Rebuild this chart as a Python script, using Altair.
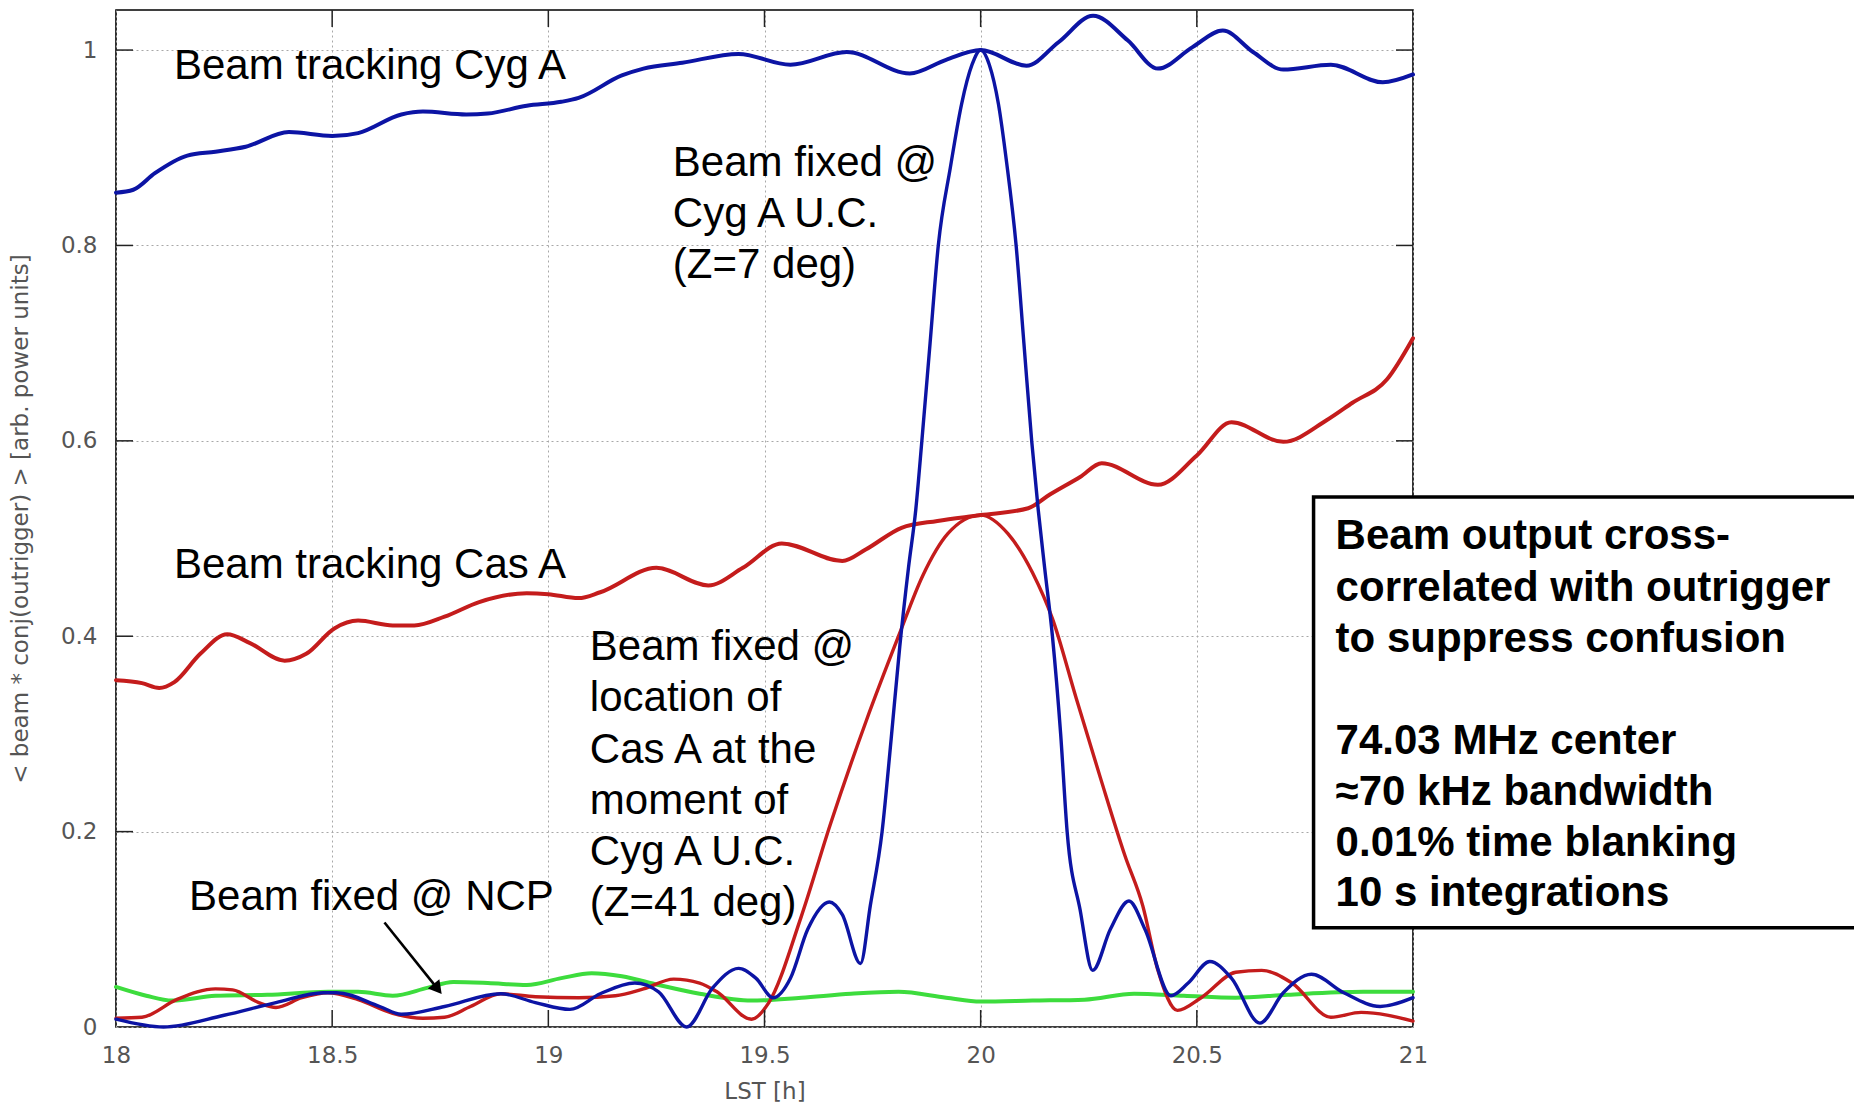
import altair as alt
import pandas as pd

# ---- measured cross-power, LST [h] vs <beam * conj(outrigger)> ----
cyg_track_lst = [18.0, 18.04, 18.09, 18.165, 18.23, 18.30, 18.40, 18.50, 18.56, 18.66, 18.71,
                 18.81, 18.86, 18.95, 19.03, 19.07, 19.17, 19.22, 19.31, 19.44, 19.56, 19.69,
                 19.836, 19.92, 20.0, 20.106, 20.18, 20.26, 20.34, 20.41, 20.49, 20.56, 20.63,
                 20.70, 20.81, 20.93, 21.0]
cyg_track_pow = [0.854, 0.857, 0.874, 0.892, 0.896, 0.901, 0.916, 0.912, 0.915, 0.934, 0.937,
                 0.934, 0.935, 0.943, 0.947, 0.951, 0.974, 0.981, 0.987, 0.996, 0.985, 0.998,
                 0.976, 0.990, 1.000, 0.984, 1.008, 1.035, 1.010, 0.981, 1.003, 1.020, 0.998,
                 0.980, 0.985, 0.967, 0.975]

cyg_fixed_lst = [18.0, 18.11, 18.25, 18.37, 18.48, 18.51, 18.61, 18.66, 18.76, 18.89, 18.97,
                 19.05, 19.12, 19.20, 19.255, 19.32, 19.38, 19.44, 19.48, 19.52, 19.56, 19.60,
                 19.65, 19.68, 19.722, 19.745, 19.772, 19.793, 19.813, 19.833, 19.85, 19.864,
                 19.883, 19.902, 19.93, 19.956, 19.98, 20.0, 20.02, 20.041, 20.06, 20.082, 20.10,
                 20.118, 20.133, 20.148, 20.166, 20.185, 20.20, 20.23, 20.259, 20.30, 20.343,
                 20.38, 20.44, 20.48, 20.53, 20.58, 20.646, 20.70, 20.765, 20.84, 20.924, 21.0]
cyg_fixed_pow = [0.008, 0.000, 0.012, 0.025, 0.035, 0.035, 0.021, 0.013, 0.021, 0.034, 0.025,
                 0.018, 0.034, 0.045, 0.036, 0.000, 0.040, 0.060, 0.050, 0.030, 0.050, 0.100,
                 0.128, 0.115, 0.065, 0.125, 0.200, 0.295, 0.390, 0.470, 0.530, 0.600,
                 0.700, 0.800, 0.880, 0.945, 0.985, 1.000, 0.985, 0.945, 0.885, 0.800, 0.700,
                 0.600, 0.530, 0.470, 0.400, 0.300, 0.200, 0.120, 0.058, 0.100, 0.129,
                 0.100, 0.032, 0.045, 0.067, 0.050, 0.004, 0.035, 0.054, 0.035, 0.021, 0.030]

cas_track_lst = [18.0, 18.06, 18.10, 18.135, 18.195, 18.257, 18.31, 18.39, 18.44, 18.505, 18.56,
                 18.64, 18.69, 18.76, 18.84, 18.95, 19.0, 19.07, 19.12, 19.25, 19.37, 19.45,
                 19.54, 19.68, 19.735, 19.817, 19.90, 20.0, 20.11, 20.16, 20.23, 20.28, 20.41,
                 20.50, 20.58, 20.70, 20.80, 20.86, 20.94, 21.0]
cas_track_pow = [0.355, 0.352, 0.347, 0.353, 0.382, 0.402, 0.393, 0.375, 0.382, 0.408, 0.416,
                 0.411, 0.411, 0.420, 0.435, 0.444, 0.443, 0.439, 0.445, 0.470, 0.452, 0.470,
                 0.495, 0.477, 0.489, 0.511, 0.518, 0.524, 0.531, 0.545, 0.563, 0.577, 0.555,
                 0.585, 0.619, 0.599, 0.621, 0.639, 0.663, 0.705]

cas_fixed_lst = [18.0, 18.06, 18.14, 18.23, 18.27, 18.33, 18.37, 18.43, 18.49, 18.56, 18.64,
                 18.71, 18.76, 18.82, 18.89, 18.97, 19.07, 19.155, 19.22, 19.29, 19.35, 19.39,
                 19.47, 19.51, 19.585, 19.652, 19.735, 19.81, 19.866, 19.924, 20.0, 20.063,
                 20.12, 20.166, 20.22, 20.277, 20.334, 20.375, 20.41, 20.455, 20.51, 20.59,
                 20.65, 20.72, 20.81, 20.88, 21.0]
cas_fixed_pow = [0.009, 0.010, 0.028, 0.039, 0.038, 0.025, 0.020, 0.030, 0.035, 0.028, 0.014,
                 0.009, 0.010, 0.021, 0.034, 0.031, 0.030, 0.032, 0.039, 0.049, 0.045, 0.036,
                 0.008, 0.025, 0.113, 0.207, 0.313, 0.400, 0.462, 0.505, 0.524, 0.505,
                 0.465, 0.418, 0.338, 0.255, 0.175, 0.124, 0.058, 0.017, 0.030, 0.056,
                 0.058, 0.045, 0.010, 0.015, 0.006]

ncp_lst = [18.0, 18.07, 18.13, 18.23, 18.35, 18.49, 18.56, 18.64, 18.72, 18.78, 18.86, 18.95,
           19.03, 19.10, 19.17, 19.255, 19.35, 19.47, 19.585, 19.70, 19.81, 19.92, 20.0, 20.12,
           20.24, 20.355, 20.47, 20.59, 20.71, 20.885, 21.0]
ncp_pow = [0.041, 0.032, 0.027, 0.032, 0.033, 0.036, 0.036, 0.032, 0.040, 0.046, 0.045, 0.043,
           0.050, 0.055, 0.052, 0.043, 0.034, 0.027, 0.030, 0.034, 0.036, 0.030, 0.026, 0.027,
           0.028, 0.034, 0.032, 0.030, 0.033, 0.036, 0.036]

# ---- annotations ----
label_lines = ["Beam tracking Cyg A",
               "Beam fixed @", "Cyg A U.C.", "(Z=7 deg)",
               "Beam tracking Cas A",
               "Beam fixed @", "location of", "Cas A at the", "moment of", "Cyg A U.C.", "(Z=41 deg)",
               "Beam fixed @ NCP"]
label_lst = [18.134, 19.288, 19.288, 19.288, 18.134,
             19.096, 19.096, 19.096, 19.096, 19.096, 19.096, 18.169]
label_pow = [0.984, 0.884, 0.832, 0.780, 0.473,
             0.3886, 0.3366, 0.2834, 0.2313, 0.1792, 0.1271, 0.1331]

box_lines = ["Beam output cross-", "correlated with outrigger", "to suppress confusion",
             "74.03 MHz center", "\u224870 kHz bandwidth", "0.01% time blanking",
             "10 s integrations"]
box_line_pow = [0.5025, 0.4491, 0.3971, 0.2930, 0.2409, 0.1888, 0.1368]
box_text_lst = 20.821
box_lst = [20.770, 22.6]
box_pow = [0.1017, 0.5424]

arrow_lst = [18.621, 18.744]
arrow_pow = [0.107, 0.039]

x_ticks = [18, 18.5, 19, 19.5, 20, 20.5, 21]
y_ticks = [0, 0.2, 0.4, 0.6, 0.8, 1.0]
x_inner_ticks = [18.5, 19, 19.5, 20, 20.5]
y_inner_ticks = [0.2, 0.4, 0.6, 0.8, 1.0]

BLUE = "#0c14a4"
RED = "#c41c1c"
GREEN = "#3ddc3d"

W, H = 1297, 1017
TICK = 17

x_scale = alt.Scale(domain=[18, 21], nice=False, zero=False)
y_scale = alt.Scale(domain=[0, 1.041], nice=False)

AX_COMMON = dict(grid=True, gridDash=[2, 3], gridColor="#a8a8a8", gridWidth=1,
                 domain=False, ticks=False, tickSize=0, labelFlush=False,
                 labelFont="DejaVu Sans", labelFontSize=23, labelColor="#555555",
                 titleFont="DejaVu Sans", titleFontSize=23, titleColor="#555555",
                 titleFontWeight="normal", labelExpr="'' + datum.value")


def X(field="lst"):
    return alt.X(f"{field}:Q", scale=x_scale,
                 axis=alt.Axis(values=x_ticks, title="LST [h]", labelPadding=17,
                               titlePadding=13, **AX_COMMON))


def Y(field="pow"):
    return alt.Y(f"{field}:Q", scale=y_scale,
                 axis=alt.Axis(values=y_ticks, title="< beam * conj(outrigger) > [arb. power units]",
                               labelPadding=19, titlePadding=28, **AX_COMMON))


def curve(lst, pw, color, width=3.6):
    df = pd.DataFrame({"lst": lst, "pow": pw})
    return alt.Chart(df).mark_line(color=color, strokeWidth=width, interpolate="monotone",
                                   strokeJoin="round", strokeCap="round").encode(x=X(), y=Y())


layers = [
    curve(ncp_lst, ncp_pow, GREEN, 4),
    curve(cas_track_lst, cas_track_pow, RED, 4),
    curve(cas_fixed_lst, cas_fixed_pow, RED, 3.4),
    curve(cyg_track_lst, cyg_track_pow, BLUE, 4),
    curve(cyg_fixed_lst, cyg_fixed_pow, BLUE, 3.4),
]

# inward tick marks on all four sides
xt = pd.DataFrame({"t": x_inner_ticks})
yt = pd.DataFrame({"t": y_inner_ticks})
tick_style = dict(color="#222222", strokeWidth=1.5)
layers += [
    alt.Chart(xt).mark_rule(**tick_style).encode(
        x=alt.X("t:Q", scale=x_scale), y=alt.value(H), y2=alt.value(H - TICK)),
    alt.Chart(xt).mark_rule(**tick_style).encode(
        x=alt.X("t:Q", scale=x_scale), y=alt.value(0), y2=alt.value(TICK)),
    alt.Chart(yt).mark_rule(**tick_style).encode(
        y=alt.Y("t:Q", scale=y_scale), x=alt.value(0), x2=alt.value(TICK)),
    alt.Chart(yt).mark_rule(**tick_style).encode(
        y=alt.Y("t:Q", scale=y_scale), x=alt.value(W), x2=alt.value(W - TICK)),
]

# curve labels
labels = pd.DataFrame({"lst": label_lst, "pow": label_pow, "txt": label_lines})
layers.append(
    alt.Chart(labels).mark_text(align="left", baseline="middle", font="Liberation Sans",
                                fontSize=42, color="black").encode(x=X(), y=Y(), text="txt:N"))

# arrow pointing at the NCP curve
arrow = pd.DataFrame({"lst": [arrow_lst[0]], "pow": [arrow_pow[0]],
                      "lst2": [arrow_lst[1]], "pow2": [arrow_pow[1]]})
layers.append(
    alt.Chart(arrow).mark_rule(color="black", strokeWidth=2.6).encode(
        x=X(), y=Y(), x2="lst2:Q", y2="pow2:Q"))
head = pd.DataFrame({"lst": [arrow_lst[1]], "pow": [arrow_pow[1]]})
layers.append(
    alt.Chart(head).mark_point(shape="triangle-up", filled=True, color="black", size=220,
                               opacity=1, angle=141).encode(x=X(), y=Y()))

# parameter box
box = pd.DataFrame({"lst": [box_lst[0]], "lst2": [box_lst[1]],
                    "pow": [box_pow[0]], "pow2": [box_pow[1]]})
layers.append(
    alt.Chart(box).mark_rect(fill="white", stroke="black", strokeWidth=3.5).encode(
        x=X(), x2="lst2:Q", y=Y(), y2="pow2:Q"))
box_txt = pd.DataFrame({"lst": [box_text_lst] * len(box_lines), "pow": box_line_pow,
                        "txt": box_lines})
layers.append(
    alt.Chart(box_txt).mark_text(align="left", baseline="middle", font="Liberation Sans",
                                 fontSize=42, fontWeight="bold", color="black").encode(
        x=X(), y=Y(), text="txt:N"))

chart = alt.layer(*layers).properties(
    width=W, height=H,
    padding={"left": 116, "top": 10, "right": 1854 - 116 - W, "bottom": 1106 - 10 - H},
    autosize=alt.AutoSizeParams(type="none"),
    background="white",
).configure_view(stroke="black", strokeWidth=1.6)

chart.save("out.html", embed_options={"renderer": "svg", "actions": False})
